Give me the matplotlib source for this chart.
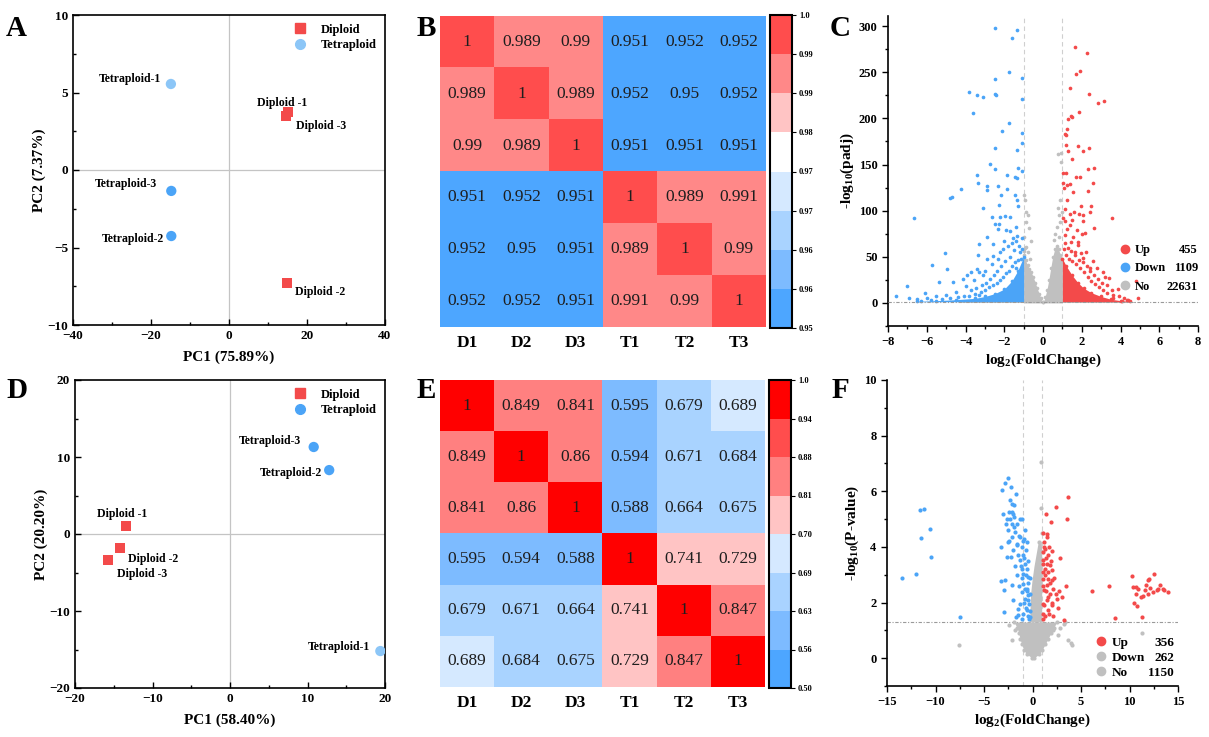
import numpy as np
import matplotlib
matplotlib.use("Agg")
import matplotlib.pyplot as plt
from matplotlib.colors import ListedColormap, BoundaryNorm
from matplotlib.lines import Line2D
from matplotlib.ticker import MultipleLocator

plt.rcParams["font.family"] = ["Liberation Serif", "DejaVu Serif"]
plt.rcParams["font.weight"] = "bold"
plt.rcParams["axes.labelweight"] = "bold"
plt.rcParams["mathtext.fontset"] = "custom"
plt.rcParams["mathtext.rm"] = "Liberation Serif:bold"
plt.rcParams["mathtext.it"] = "Liberation Serif:bold"
plt.rcParams["mathtext.bf"] = "Liberation Serif:bold"

RED = "#f34a4a"
BLUE = "#4ba4f7"
LBLUE = "#8cc6f7"
GREY = "#c0c0c0"

# ---------------- PCA (A, D) ----------------
dip_names = ["Diploid -1", "Diploid -2", "Diploid -3"]
tet_names = ["Tetraploid-1", "Tetraploid-2", "Tetraploid-3"]

pcaA_dip_x = [15.1, 14.9, 14.6]
pcaA_dip_y = [3.74, -7.3, 3.48]
pcaA_tet_x = [-14.9, -14.8, -14.8]
pcaA_tet_y = [5.55, -4.26, -1.35]

pcaD_dip_x = [-13.4, -14.2, -15.7]
pcaD_dip_y = [1.0, -1.8, -3.4]
pcaD_tet_x = [19.4, 12.8, 10.8]
pcaD_tet_y = [-15.2, 8.3, 11.3]

# ---------------- correlation heatmaps (B, E) ----------------
samples = ["D1", "D2", "D3", "T1", "T2", "T3"]
corr_B = [[1, 0.989, 0.99, 0.951, 0.952, 0.952],
          [0.989, 1, 0.989, 0.952, 0.95, 0.952],
          [0.99, 0.989, 1, 0.951, 0.951, 0.951],
          [0.951, 0.952, 0.951, 1, 0.989, 0.991],
          [0.952, 0.95, 0.951, 0.989, 1, 0.99],
          [0.952, 0.952, 0.951, 0.991, 0.99, 1]]
corr_E = [[1, 0.849, 0.841, 0.595, 0.679, 0.689],
          [0.849, 1, 0.86, 0.594, 0.671, 0.684],
          [0.841, 0.86, 1, 0.588, 0.664, 0.675],
          [0.595, 0.594, 0.588, 1, 0.741, 0.729],
          [0.679, 0.671, 0.664, 0.741, 1, 0.847],
          [0.689, 0.684, 0.675, 0.729, 0.847, 1]]
bounds_B = [0.95, 0.95625, 0.9625, 0.96875, 0.975, 0.98125, 0.9875, 0.99375, 1.0]
labels_B = ["0.95", "0.96", "0.96", "0.97", "0.97", "0.98", "0.99", "0.99", "1.0"]
bounds_E = [0.5, 0.5625, 0.625, 0.6875, 0.70, 0.8125, 0.875, 0.9375, 1.0]
labels_E = ["0.50", "0.56", "0.63", "0.69", "0.70", "0.81", "0.88", "0.94", "1.0"]
colors_B = ["#4da6ff", "#7dbbff", "#a9d3ff", "#d5e9ff", "#ffffff", "#ffc4c4", "#ff8888", "#ff4d4d"]
colors_E = ["#4da6ff", "#7dbbff", "#a9d3ff", "#d5e9ff", "#ffc4c4", "#ff8080", "#ff4d4d", "#ff0000"]

# ---------------- volcano C (log2FC, -log10 padj) ----------------
c_counts = [455, 1109, 22631]
c_down_pts = [(-2.46, 297.5), (-1.33, 295.7), (-1.59, 287.4), (-1.76, 249.8), (-2.46, 243), (-1.10, 243.9),
              (-3.80, 228.5), (-3.42, 225.3), (-3.10, 223), (-2.50, 226.6), (-2.42, 225.5), (-1.08, 220.6),
              (-3.61, 205.8), (-1.76, 195.3), (-2.13, 186.6), (-1.08, 184.2), (-1.10, 173), (-2.46, 168.3),
              (-1.34, 166.2), (-2.73, 150.3), (-2.49, 145.6), (-1.27, 146.2), (-1.08, 143.3), (-3.39, 138.6),
              (-1.87, 138.6), (-1.44, 136.1), (-1.36, 135), (-3.35, 129.6), (-2.91, 126.7), (-2.30, 126.7),
              (-2.87, 122.7), (-4.23, 123.1), (-4.80, 114.1), (-4.68, 114.8), (-1.84, 123.4), (-2.17, 116.9),
              (-1.44, 116.9), (-1.34, 111.5), (-2.25, 105.7), (-3.10, 102.8), (-6.64, 91.9), (-1.27, 104.6),
              (-2.65, 93.1), (-2.22, 92.7), (-1.96, 93.8), (-1.72, 92.7), (-2.50, 85.8), (-2.25, 85.8),
              (-1.40, 82.5), (-1.89, 78.9), (-1.68, 78.2), (-2.30, 80), (-2.87, 71.3), (-3.30, 63.7),
              (-2.56, 64.4), (-2.01, 66.6), (-1.61, 64.8), (-1.39, 66.6), (-5.04, 53.6), (-3.37, 52.2),
              (-2.89, 47.8), (-2.58, 50.7), (-2.22, 55), (-5.74, 40.8), (-4.98, 36.5), (-5.37, 22.7),
              (-7.00, 18.3), (-7.59, 7.5), (-6.92, 5.7), (-6.11, 10.4), (-4.63, 22.7), (-4.14, 26.4),
              (-3.93, 30), (-3.73, 33.6), (-3.42, 37.2), (-3.28, 33.6), (-3.08, 30),
              (-1.1, 58), (-1.2, 55), (-1.15, 48), (-1.3, 47), (-1.45, 44), (-1.6, 40), (-1.4, 38),
              (-1.75, 35), (-1.9, 32), (-2.05, 28), (-2.2, 25), (-2.4, 22), (-2.6, 19), (-2.8, 17),
              (-3.0, 14), (-3.2, 12), (-3.5, 10), (-3.8, 8), (-4.1, 7), (-4.4, 6), (-1.25, 62),
              (-1.5, 57), (-1.7, 50), (-1.95, 45), (-2.15, 40), (-2.35, 35), (-2.55, 30), (-2.75, 26),
              (-2.95, 22), (-3.15, 19), (-3.45, 16), (-3.7, 14), (-1.1, 70), (-1.35, 73), (-1.55, 70),
              (-1.8, 62), (-2.05, 58), (-2.3, 48), (-2.65, 42), (-3.0, 35), (-3.55, 25), (-4.0, 18),
              (-4.5, 12), (-5.0, 9), (-5.5, 7), (-6.0, 5), (-6.5, 4), (-5.2, 4), (-5.8, 3),
              (-6.3, 2.5), (-4.8, 5), (-3.3, 9)]
c_down_core_x = [-6.5, -5.5, -4.5, -3.5, -3.0, -2.5, -2.0, -1.6, -1.3, -1.0]
c_down_core_top = [1.8, 2.5, 3.5, 5, 7, 10, 15, 24, 35, 50]

c_up_pts = [(1.65, 276.9), (2.27, 271.4), (1.70, 247.7), (1.89, 250.9), (1.38, 232.5), (2.37, 226.3),
            (2.84, 216.6), (3.15, 219.2), (1.88, 207.2), (1.43, 202.1), (1.51, 201.5), (1.27, 198.9),
            (1.22, 188.1), (1.12, 182.7), (1.19, 182), (1.19, 171.2), (1.79, 170.1), (2.39, 167.6),
            (2.06, 164.7), (1.51, 155.6), (1.27, 164.7), (1.05, 140.8), (1.19, 140.4), (1.69, 136.1),
            (1.89, 136.5), (2.34, 144.8), (2.65, 145.9), (2.58, 130.3), (2.31, 121.7), (1.05, 129.6),
            (1.25, 127.9), (1.41, 128.6), (1.53, 120.7), (1.08, 124.3), (1.22, 111.6), (1.98, 105.2),
            (2.46, 105.2), (3.54, 92.5), (1.15, 101.9), (1.39, 96.5), (1.61, 98.3), (1.85, 96.1),
            (2.08, 95.4), (2.65, 80.9), (2.41, 98.3), (1.14, 88.3), (1.48, 90.1), (1.77, 79.1),
            (2.05, 88.3), (2.17, 75.5), (1.15, 73.7), (1.44, 66.4), (1.79, 62.8), (1.65, 55.6),
            (1.96, 53.8), (2.08, 48.3), (2.43, 37.5), (2.77, 37.5), (3.12, 33.9), (3.43, 26.7),
            (3.85, 15.1), (4.8, 24.1), (4.9, 5.8), (4.31, 3.2), (4.06, 2.0), (3.63, 5.0),
            (1.1, 58), (1.2, 52), (1.35, 48), (1.5, 45), (1.7, 42), (1.9, 38), (2.1, 33), (2.3, 28),
            (2.5, 24), (2.7, 20), (2.9, 17), (3.1, 14), (3.3, 11), (3.6, 9), (3.9, 7), (1.15, 65),
            (1.3, 60), (1.45, 56), (1.65, 52), (1.85, 47), (2.05, 44), (2.25, 40), (2.45, 35),
            (2.65, 30), (2.85, 26), (3.05, 22), (3.3, 19), (3.55, 14), (1.25, 80), (1.55, 72),
            (1.8, 66), (2.2, 55), (2.6, 45), (3.2, 28), (1.05, 92), (1.4, 85), (2.0, 75), (4.2, 5),
            (4.4, 3)]
c_up_core_x = [1.0, 1.2, 1.5, 1.8, 2.1, 2.5, 3.0, 3.5, 4.0, 4.5]
c_up_core_top = [48, 40, 30, 22, 16, 11, 7, 4, 2.5, 1.8]

c_no_pts = [(-1.0, 117), (-0.91, 112), (-0.86, 99), (-0.79, 95), (-0.89, 88), (-0.73, 81), (-0.99, 72),
            (-0.61, 67), (-0.86, 61), (-0.97, 56), (0.75, 161), (0.95, 163), (0.92, 153), (0.97, 99),
            (0.84, 95), (0.79, 103), (0.88, 112), (0.6, 75), (0.7, 82), (0.9, 88), (0.55, 68),
            (0.8, 72), (-0.8, 55), (-0.65, 48), (-0.95, 60)]
c_no_left_x = [-1.0, -0.9, -0.8, -0.7, -0.6, -0.5, -0.4, -0.3, -0.2, -0.1, -0.02]
c_no_left_top = [52, 46, 41, 37, 33, 28, 22, 16, 10, 5, 1]
c_no_right_x = [0.02, 0.1, 0.2, 0.3, 0.4, 0.5, 0.6, 0.7, 0.8, 0.9, 1.0]
c_no_right_top = [1, 6, 14, 25, 38, 50, 58, 62, 58, 52, 48]
c_no_base_x = [-4.3, 4.8]
c_no_base_top = [1.4, 1.4]

# ---------------- volcano F (log2FC, -log10 P) ----------------
f_counts = [356, 262, 1150]
f_down_pts = [(-11.56, 5.34), (-11.15, 5.36), (-10.6, 4.63), (-11.53, 4.32), (-10.43, 3.65), (-13.45, 2.90),
              (-12.04, 3.04), (-7.47, 1.48), (-2.53, 6.49), (-2.87, 6.28), (-3.18, 6.04), (-2.21, 6.16),
              (-1.73, 5.9), (-2.3, 5.68), (-2.1, 5.56), (-1.87, 5.5), (-3.07, 5.18), (-2.39, 5.26),
              (-2.15, 5.26), (-1.98, 5.2), (-1.87, 5.08), (-2.66, 5.02), (-1.29, 5.02), (-1.08, 5.02),
              (-2.73, 4.84), (-2.08, 4.84), (-1.6, 4.84), (-2.49, 4.6), (-1.8, 4.54), (-2.15, 4.36),
              (-1.29, 4.36), (-0.87, 4.3), (-0.6, 4.18), (-2.56, 4.18), (-3.28, 3.98), (-1.63, 4.06),
              (-1.12, 4.0), (-2.63, 3.62), (-2.22, 3.62), (-1.46, 3.7), (-0.94, 3.7), (-1.29, 3.52),
              (-0.77, 3.4), (-1.12, 3.22), (-0.6, 3.22), (-0.94, 3.04), (-0.43, 2.93), (-2.83, 2.81),
              (-3.28, 2.77), (-2.15, 2.63), (-2.9, 2.45), (-0.94, 2.68), (-0.6, 2.5), (-1.05, 2.38),
              (-0.43, 2.26), (-0.77, 2.14), (-1.98, 2.08), (-1.29, 1.96), (-0.36, 1.96), (-1.46, 1.76),
              (-0.6, 1.72), (-2.94, 1.66), (-1.01, 1.58), (-0.26, 1.49), (-1.7, 1.49),
              (-0.5, 1.5), (-0.7, 1.8), (-0.3, 1.7), (-0.9, 2.0), (-0.5, 2.1), (-0.3, 2.3), (-0.8, 2.5),
              (-0.5, 2.7), (-0.3, 2.9), (-0.7, 3.0), (-1.2, 3.3), (-0.5, 3.5), (-0.9, 3.6), (-0.7, 3.9),
              (-1.0, 4.2), (-1.4, 4.4), (-0.8, 4.6), (-1.6, 3.0), (-1.4, 2.6), (-1.1, 2.9), (-1.8, 3.3),
              (-2.0, 3.9), (-1.6, 4.1), (-2.4, 4.2), (-1.9, 4.7), (-2.3, 5.0), (-1.5, 1.55), (-1.1, 1.4),
              (-0.4, 1.4), (-0.6, 2.4)]
f_up_pts = [(3.66, 5.8), (2.4, 5.42), (1.43, 5.2), (3.52, 5.02), (1.95, 4.89), (1.11, 4.51), (1.46, 4.36),
            (1.18, 4.18), (1.29, 3.94), (1.97, 3.86), (1.06, 3.83), (2.86, 3.61), (1.63, 3.70), (1.11, 3.52),
            (1.46, 3.38), (1.8, 3.34), (1.29, 3.22), (1.06, 3.1), (1.97, 3.16), (1.63, 2.86), (1.11, 2.86),
            (1.97, 2.8), (3.46, 2.58), (1.46, 2.62), (2.69, 2.42), (2.15, 2.5), (1.18, 2.44), (1.8, 2.32),
            (3.04, 2.2), (2.56, 2.12), (1.46, 2.08), (1.11, 1.96), (1.97, 1.9), (1.63, 1.72), (1.06, 1.6),
            (2.15, 1.51), (3.25, 1.37), (6.14, 2.40), (7.89, 2.61), (8.52, 1.45), (10.3, 2.95),
            (10.33, 2.55), (10.64, 2.57), (10.9, 2.5), (10.67, 2.32), (10.47, 1.99), (10.81, 1.87),
            (11.33, 1.49), (11.2, 2.2), (11.67, 2.64), (11.91, 2.8), (11.98, 2.86), (11.63, 2.46),
            (12.12, 2.52), (11.88, 2.3), (11.44, 2.22), (12.56, 3.04), (12.42, 2.38), (12.83, 2.44),
            (13.1, 2.64), (12.9, 2.5), (13.44, 2.5), (13.58, 2.46), (13.99, 2.37),
            (1.3, 1.5), (1.7, 1.6), (1.2, 1.9), (1.6, 2.2), (1.1, 2.6), (1.4, 2.4), (1.8, 2.7), (1.3, 3.0),
            (1.6, 3.1), (1.1, 3.4), (1.9, 3.5), (1.4, 3.6), (1.2, 4.0), (1.7, 4.0), (1.5, 4.45), (2.2, 2.9),
            (2.4, 2.3), (2.0, 2.0), (1.1, 1.4), (2.6, 1.8)]
f_no_pts = [(-7.58, 0.46), (11.26, 0.92), (0.88, 7.04), (0.88, 5.41), (3.35, 1.31), (3.7, 0.65),
            (4.04, 0.46), (-2.13, 0.65), (-1.8, 1.0), (2.66, 0.82), (3.94, 0.53), (3.25, 1.22),
            (2.15, 1.03), (0.77, 3.82), (0.62, 4.18), (0.95, 4.5), (-2.4, 1.2), (2.8, 1.1)]
f_no_low_y = [0.02, 0.15, 0.3, 0.5, 0.7, 0.9, 1.1, 1.3]
f_no_low_left = [-0.1, -0.6, -0.9, -1.1, -1.3, -1.4, -1.6, -1.9]
f_no_low_right = [0.2, 0.7, 1.0, 1.3, 1.6, 1.9, 2.2, 2.5]
f_no_col_y = [1.3, 1.8, 2.3, 2.8, 3.3, 3.8, 4.2]
f_no_col_left = [-0.3, -0.25, -0.2, -0.05, 0.15, 0.4, 0.6]
f_no_col_right = [0.95, 0.95, 0.95, 0.95, 0.95, 0.95, 0.9]

W, H = 1209, 737
fig = plt.figure(figsize=(W / 100, H / 100), dpi=100)


def box(l, t, r, b):
    # pixel box -> figure fraction
    return [l / W, 1 - b / H, (r - l) / W, (b - t) / H]


def pca_panel(ax, dx, dy, tx, ty, tet_cols, lab_pos, lim, major, minor, xl, yl, leg_col):
    ax.axhline(0, color="#c4c4c4", lw=0.9, zorder=1)
    ax.axvline(0, color="#c4c4c4", lw=0.9, zorder=1)
    ax.scatter(dx, dy, marker="s", s=55, color=RED, zorder=3, linewidths=0)
    ax.scatter(tx, ty, marker="o", s=55, c=tet_cols, zorder=3, linewidths=0)
    for name, (x, y, ha) in zip(dip_names + tet_names, lab_pos):
        ax.text(x, y, name, ha=ha, va="center", fontsize=8.5, fontweight="bold")
    ax.set_xlim(-lim[0], lim[0])
    ax.set_ylim(-lim[1], lim[1])
    ax.xaxis.set_major_locator(MultipleLocator(major[0]))
    ax.yaxis.set_major_locator(MultipleLocator(major[1]))
    ax.xaxis.set_minor_locator(MultipleLocator(minor[0]))
    ax.yaxis.set_minor_locator(MultipleLocator(minor[1]))
    ax.tick_params(which="both", direction="in", width=1.0, labelsize=9.5)
    ax.tick_params(which="major", length=4)
    ax.tick_params(which="minor", length=2.5)
    for s in ax.spines.values():
        s.set_linewidth(1.2)
    ax.set_xlabel(xl, fontsize=11, labelpad=6)
    ax.set_ylabel(yl, fontsize=11, labelpad=1)
    handles = [Line2D([], [], marker="s", ls="", color=RED, ms=7),
               Line2D([], [], marker="o", ls="", color=leg_col, ms=7)]
    ax.legend(handles, ["Diploid", "Tetraploid"], loc="upper right", frameon=False,
              prop={"size": 9, "weight": "bold"}, handletextpad=0.6, labelspacing=0.25,
              borderaxespad=0.3)


axA = fig.add_axes(box(73, 15, 385, 325))
pca_panel(axA, pcaA_dip_x, pcaA_dip_y, pcaA_tet_x, pcaA_tet_y, [LBLUE, BLUE, BLUE],
          [(7.2, 4.3, "left"), (16.9, -7.9, "left"), (17.2, 2.85, "left"),
           (-17.5, 5.9, "right"), (-16.7, -4.45, "right"), (-18.5, -0.9, "right")],
          (40, 10), (20, 5), (10, 2.5), "PC1 (75.89%)", "PC2 (7.37%)", LBLUE)

axD = fig.add_axes(box(75, 380, 385, 688))
pca_panel(axD, pcaD_dip_x, pcaD_dip_y, pcaD_tet_x, pcaD_tet_y, [LBLUE, BLUE, BLUE],
          [(-17.2, 2.6, "left"), (-13.2, -3.2, "left"), (-14.6, -5.2, "left"),
           (18.1, -14.7, "right"), (11.9, 7.9, "right"), (9.2, 12.1, "right")],
          (20, 20), (10, 10), (5, 5), "PC1 (58.40%)", "PC2 (20.20%)", BLUE)


def heat_panel(hbox, cbox, mat, bounds, cols, cb_labels, over):
    ax = fig.add_axes(box(*hbox))
    cmap = ListedColormap(cols)
    cmap.set_over(over)
    norm = BoundaryNorm(bounds, cmap.N)
    mat = np.array(mat, dtype=float)
    im = ax.imshow(mat, cmap=cmap, norm=norm, aspect="auto", interpolation="nearest")
    for i in range(mat.shape[0]):
        for j in range(mat.shape[1]):
            ax.text(j, i, f"{mat[i, j]:g}", ha="center", va="center", fontsize=12.5,
                    fontweight="normal", color="#1e1e1e")
    ax.set_xticks(range(len(samples)))
    ax.set_xticklabels(samples, fontsize=12.5, fontweight="bold")
    ax.set_yticks([])
    ax.tick_params(length=0, pad=6)
    for s in ax.spines.values():
        s.set_visible(False)
    cax = fig.add_axes(box(*cbox))
    cb = fig.colorbar(im, cax=cax, ticks=bounds, spacing="uniform")
    cb.ax.set_yticklabels(cb_labels, fontsize=6, fontweight="bold")
    cb.ax.tick_params(length=3, width=0.8, pad=2)
    cb.outline.set_linewidth(1.5)


heat_panel((440, 16, 766, 327), (770, 15, 792, 328), corr_B, bounds_B, colors_B, labels_B, "#ff4d4d")
heat_panel((440, 380, 765, 687), (769, 380, 791, 688), corr_E, bounds_E, colors_E, labels_E, "#ff0000")


def volcano_axes(ax, xlim, ylim, xmaj, xmin, ymaj, ymin, ylabel):
    ax.set_xlim(*xlim)
    ax.set_ylim(*ylim)
    ax.xaxis.set_major_locator(MultipleLocator(xmaj))
    ax.xaxis.set_minor_locator(MultipleLocator(xmin))
    ax.yaxis.set_major_locator(MultipleLocator(ymaj))
    ax.yaxis.set_minor_locator(MultipleLocator(ymin))
    ax.spines["top"].set_visible(False)
    ax.spines["right"].set_visible(False)
    ax.spines["left"].set_linewidth(1.2)
    ax.spines["bottom"].set_linewidth(1.2)
    ax.tick_params(which="both", direction="out", width=1.0, labelsize=9)
    ax.tick_params(which="major", length=4)
    ax.tick_params(which="minor", length=2.5)
    ax.set_xlabel(r"log$_{2}$(FoldChange)", fontsize=11, labelpad=2)
    ax.set_ylabel(ylabel, fontsize=11, labelpad=2)


def count_legend(ax, cols, names, counts, anchor, spacing, size):
    handles = [Line2D([], [], marker="o", ls="", color=c, ms=6) for c in cols]
    leg = ax.legend(handles, names, loc="lower left", bbox_to_anchor=anchor, frameon=False,
                    prop={"size": size, "weight": "bold"}, handletextpad=0.3, labelspacing=spacing,
                    borderaxespad=0, borderpad=0.2, handlelength=1.0)
    fig.canvas.draw()
    inv = ax.transAxes.inverted()
    for t, n in zip(leg.get_texts(), counts):
        bb = t.get_window_extent()
        y = inv.transform((0, (bb.y0 + bb.y1) / 2))[1]
        ax.text(anchor[2], y, str(n), transform=ax.transAxes, ha="right", va="center",
                fontsize=size, fontweight="bold")


# C
axC = fig.add_axes(box(888, 16, 1198, 326))
for v in (-1, 1):
    axC.axvline(v, color="#cfcfcf", lw=0.8, ls=(0, (4, 3)), zorder=1)
axC.axhline(1.3, color="#9a9a9a", lw=0.8, ls=(0, (3, 1.5, 1, 1.5)), zorder=5)
axC.fill_between(c_no_base_x, 0, c_no_base_top, color=GREY, lw=0, zorder=2)
axC.fill_between(c_no_left_x, 0, c_no_left_top, color=GREY, lw=0, zorder=2)
axC.fill_between(c_no_right_x, 0, c_no_right_top, color=GREY, lw=0, zorder=2)
axC.scatter(c_no_left_x + c_no_right_x, c_no_left_top + c_no_right_top, s=7, color=GREY, lw=0, zorder=2)
nx, ny = zip(*c_no_pts)
axC.scatter(nx, ny, s=7, color=GREY, lw=0, zorder=2)
axC.fill_between(c_down_core_x, 1.3, c_down_core_top, color=BLUE, lw=0, zorder=3)
axC.scatter(c_down_core_x, c_down_core_top, s=7, color=BLUE, lw=0, zorder=3)
bx, by = zip(*c_down_pts)
axC.scatter(bx, by, s=7, color=BLUE, lw=0, zorder=3)
axC.fill_between(c_up_core_x, 1.3, c_up_core_top, color=RED, lw=0, zorder=3)
axC.scatter(c_up_core_x, c_up_core_top, s=7, color=RED, lw=0, zorder=3)
rx, ry = zip(*c_up_pts)
axC.scatter(rx, ry, s=7, color=RED, lw=0, zorder=3)
volcano_axes(axC, (-8, 8), (-25, 311), 2, 1, 50, 25, r"-log$_{10}$(padj)")
count_legend(axC, [RED, BLUE, GREY], ["Up", "Down", "No"], c_counts, (0.735, 0.1, 1.0, 0.2), 0.5, 9)

# F
axF = fig.add_axes(box(887, 380, 1178, 686))
for v in (-1, 1):
    axF.axvline(v, color="#cfcfcf", lw=0.8, ls=(0, (4, 3)), zorder=1)
axF.axhline(1.3, color="#9a9a9a", lw=0.8, ls=(0, (3, 1.5, 1, 1.5)), zorder=1)
axF.fill_betweenx(f_no_low_y, f_no_low_left, f_no_low_right, color=GREY, lw=0, zorder=2)
axF.fill_betweenx(f_no_col_y, f_no_col_left, f_no_col_right, color=GREY, lw=0, zorder=2)
axF.scatter(f_no_low_left + f_no_low_right, f_no_low_y + f_no_low_y, s=9, color=GREY, lw=0, zorder=2)
nx, ny = zip(*f_no_pts)
axF.scatter(nx, ny, s=9, color=GREY, lw=0, zorder=2)
bx, by = zip(*f_down_pts)
axF.scatter(bx, by, s=9, color=BLUE, lw=0, zorder=3)
rx, ry = zip(*f_up_pts)
axF.scatter(rx, ry, s=9, color=RED, lw=0, zorder=3)
volcano_axes(axF, (-15, 15), (-1, 10), 5, 2.5, 2, 1, r"-log$_{10}$(P-value)")
count_legend(axF, [RED, GREY, GREY], ["Up", "Down", "No"], f_counts, (0.705, 0.015, 0.986, 0.2), 0.2, 9.5)

for letter, (px, py) in zip("ABCDEF", [(6, 28), (417, 28), (830, 28), (6, 391), (417, 391), (832, 391)]):
    fig.text(px / W, 1 - py / H, letter, fontsize=21, fontweight="bold", va="center", ha="left")

fig.savefig("out.png", dpi=100)
